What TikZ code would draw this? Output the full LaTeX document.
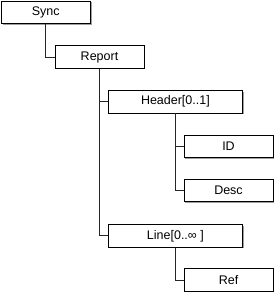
\documentclass[tikz,border=0pt]{standalone}
\usepackage{fontspec}
\setmainfont{Liberation Sans}
\usetikzlibrary{shadows}

\tikzset{
  elem/.style={draw=black, line width=0.9pt, fill=white, inner sep=0pt,
    minimum width=89pt, minimum height=22.5pt, font=\fontsize{12.5}{14}\selectfont,
    drop shadow={shadow xshift=1.2pt, shadow yshift=-1.2pt, fill=gray!75, opacity=1}},
  wideelem/.style={elem, minimum width=134pt},
  link/.style={draw=black!85, line width=0.9pt}
}

\begin{document}
\begin{tikzpicture}[x=1pt,y=-1pt]
                        \useasboundingbox (0,0) rectangle (275,294);
                        % tree of elements
                        \node[elem](sync)at(45.8,12.5){Sync};
                        \node[elem](report)at(99.5,57){Report};
                        \node[wideelem](header)at(175.4,101.7){Header[0..1]};
                        \node[elem](id)at(228.5,146.4){ID};
                        \node[elem](desc)at(228.5,190.5){Desc};
                        \node[wideelem](line)at(175.4,235.8){Line[0..∞ ]};
                        \node[elem](ref)at(228.5,280){Ref};
                        % connectors
                        \draw[link](sync.south)|-(report.west);
                        \draw[link](report.south)|-(header.west);
                        \draw[link](report.south)|-(line.west);
                        \draw[link](header.south)|-(id.west);
                        \draw[link](header.south)|-(desc.west);
                        \draw[link](line.south)|-(ref.west);
                    \end{tikzpicture}
\end{document}
